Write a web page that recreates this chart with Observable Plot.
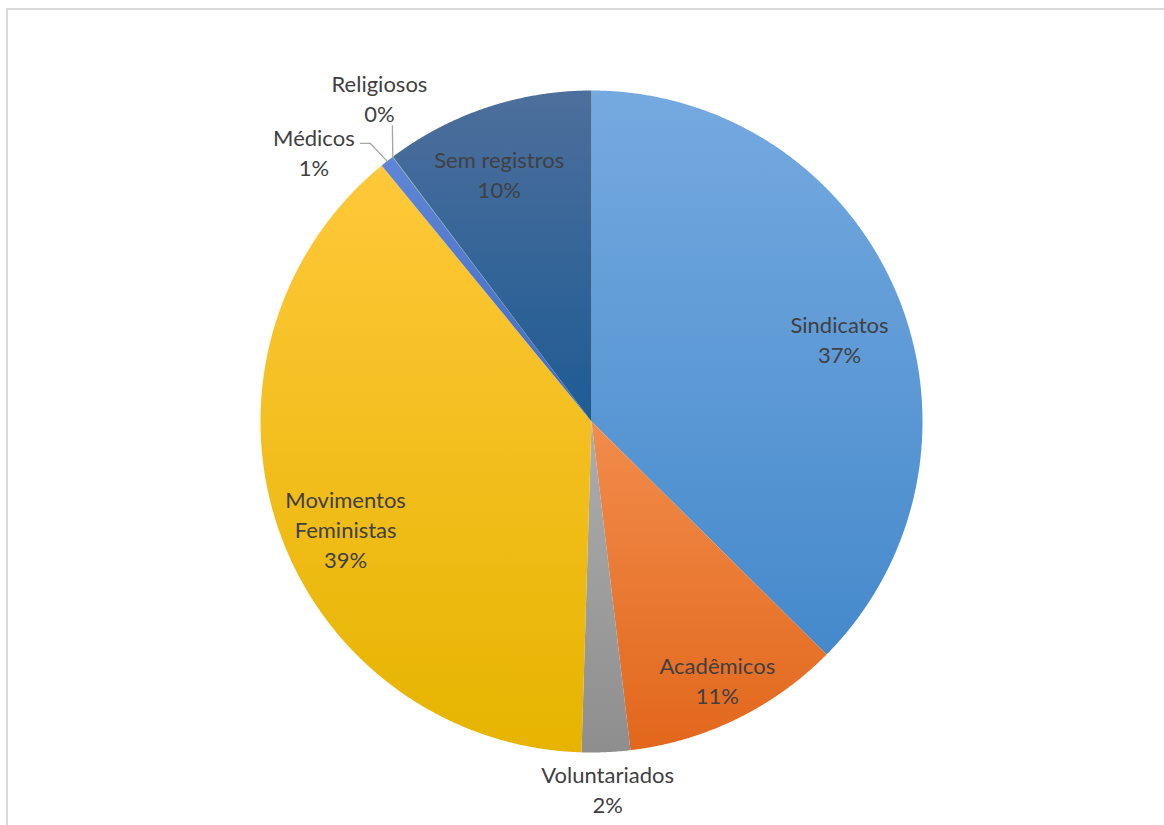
<!DOCTYPE html>
<html>
<head>
<meta charset="utf-8">
<script src="https://cdn.jsdelivr.net/npm/d3@7"></script>
<script src="https://cdn.jsdelivr.net/npm/@observablehq/plot@0.6"></script>
<style>
  html, body { margin: 0; padding: 0; background: #fff; overflow: hidden; }
  #wrap { position: relative; width: 1164px; height: 825px; }
  #frame { position: absolute; left: 6px; top: 8px; width: 1158px; height: 817px;
           border-top: 2px solid #d9d9d9; border-left: 2px solid #d9d9d9; box-sizing: border-box; pointer-events: none; }
  #chart { position: absolute; left: 0; top: 0; }
</style>
</head>
<body>
<div id="wrap"><div id="chart"></div><div id="frame"></div></div>
<script>
// ---- data ----
const categories = ["Sindicatos", "Acadêmicos", "Voluntariados", "Movimentos Feministas", "Médicos", "Religiosos", "Sem registros"];
const shares = [37.43, 10.69, 2.36, 38.59, 0.67, 0.02, 10.24];
const pctLabels = ["37%", "11%", "2%", "39%", "1%", "0%", "10%"];
const labelNames = ["Sindicatos", "Acadêmicos", "Voluntariados", "Movimentos\nFeministas", "Médicos", "Religiosos", "Sem registros"];
const colorTop = ["#75aae0", "#f18c4b", "#adadad", "#ffc83a", "#5f86d6", "#7ab851", "#4d6f9c"];
const colorBottom = ["#4589cb", "#e2671c", "#8e8e8e", "#e6b400", "#4169be", "#5e9a3c", "#1e5b94"];
// label placement (angle in degrees clockwise from 12 o'clock, radius as fraction of pie radius); null angle = slice middle
const labelAngle = [71.5, null, null, 246.5, 314.2, 326.8, 339.6];
const labelRadius = [0.79, 0.867, 1.11, 0.81, 1.17, 1.17, 0.80];
// leader line bends (in pie-radius units) for outside labels that have them
const leaderBends = { "Médicos": [[-0.698, 0.840], [-0.668, 0.840]], "Religiosos": [[-0.6015, 0.894]] };

// ---- geometry from data ----
const W = 1164, H = 825, R = 331, CX = 591, CY = 421;
const pie = d3.pie().sort(null).value(d => d.v)(categories.map((c, i) => ({c, v: shares[i], i})));
const slicePts = [];
pie.forEach(p => {
  const n = Math.max(2, Math.ceil((p.endAngle - p.startAngle) / 0.004));
  slicePts.push({c: p.data.c, x: 0, y: 0});
  for (let k = 0; k <= n; k++) {
    const a = p.startAngle + (p.endAngle - p.startAngle) * k / n;
    slicePts.push({c: p.data.c, x: Math.sin(a), y: Math.cos(a)});
  }
  slicePts.push({c: p.data.c, x: 0, y: 0});
});
const circlePts = d3.range(0, 361).map(d => ({x: Math.sin(d * Math.PI / 180), y: Math.cos(d * Math.PI / 180)}));

const labels = pie.map((p, i) => {
  const mid = (p.startAngle + p.endAngle) / 2;
  const a = labelAngle[i] == null ? mid : labelAngle[i] * Math.PI / 180;
  const r = labelRadius[i];
  return {c: p.data.c, x: r * Math.sin(a), y: r * Math.cos(a), text: labelNames[i] + "\n" + pctLabels[i], mid};
});
const leaders = [];
labels.forEach(l => {
  const b = leaderBends[l.c];
  if (!b) return;
  b.forEach(([x, y]) => leaders.push({c: l.c, x, y}));
  leaders.push({c: l.c, x: Math.sin(l.mid), y: Math.cos(l.mid)});
});

const marks = [
  Plot.line(circlePts, {x: "x", y: "y", fill: "#000", fillOpacity: 0.38, stroke: "none", dx: 2, dy: 3, ariaLabel: "shadow"})
];
categories.forEach((c, i) => {
  marks.push(Plot.line(slicePts.filter(d => d.c === c), {x: "x", y: "y", fill: `url(#grad${i})`, stroke: "none", curve: "linear"}));
});
marks.push(Plot.line(leaders, {x: "x", y: "y", z: "c", stroke: "#a6a6a6", strokeWidth: 1.3}));
marks.push(Plot.text(labels, {x: "x", y: "y", text: "text", fontSize: 22, lineHeight: 1.36, fill: "#404040",
  fontFamily: "Lato, 'Open Sans', sans-serif", textAnchor: "middle"}));

const chart = Plot.plot({
  width: W, height: H,
  marginTop: 0, marginRight: 0, marginBottom: 0, marginLeft: 0,
  x: {domain: [-CX / R, (W - CX) / R], axis: null},
  y: {domain: [-(H - CY) / R, CY / R], axis: null},
  style: {background: "transparent", overflow: "visible"},
  marks
});
document.getElementById("chart").appendChild(chart);

// gradients and shadow filter
const svg = d3.select(chart);
const defs = svg.insert("defs", ":first-child");
categories.forEach((c, i) => {
  const g = defs.append("linearGradient").attr("id", `grad${i}`).attr("x1", 0).attr("y1", 0).attr("x2", 0).attr("y2", 1);
  g.append("stop").attr("offset", "0%").attr("stop-color", colorTop[i]);
  g.append("stop").attr("offset", "100%").attr("stop-color", colorBottom[i]);
});
defs.append("filter").attr("id", "blur").attr("x", "-10%").attr("y", "-10%").attr("width", "120%").attr("height", "120%")
  .append("feGaussianBlur").attr("stdDeviation", 4);
svg.selectAll("g[aria-label=shadow]").attr("filter", "url(#blur)");
</script>
</body>
</html>
